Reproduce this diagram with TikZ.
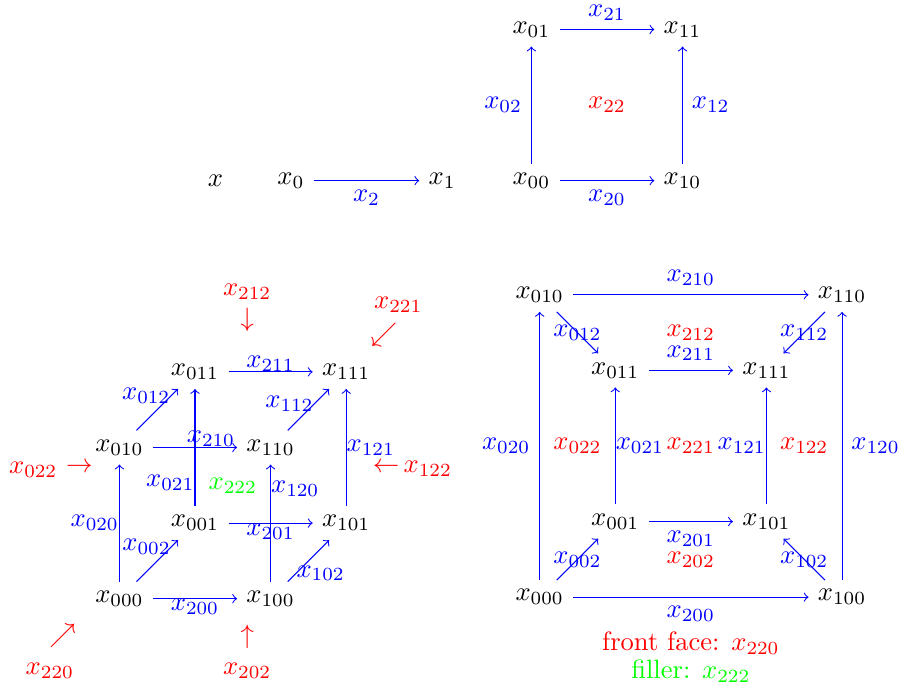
\documentclass[tikz,border=0pt]{standalone}
\begin{document}
\begin{tikzpicture}[
		cube/.style={->, blue},
		lab/.style={blue, inner sep=0pt},
		face/.style={red},
		filler/.style={green}
	]
	\useasboundingbox (-1.58,-1.19) rectangle (10.34,7.92);

	% Точка и отрезок
	\node (t) at (1.27,5.53) {$x$};
	\node (t0) at (2.27,5.53) {$x_0$};
	\node (t1) at (4.27,5.53) {$x_1$};
	\draw[cube] (t0) -- node[below] (l2) {$x_2$} (t1);

	% Квадрат
	\node (t00) at (5.45,5.53) {$x_{00}$};
	\node (t10) at (7.45,5.53) {$x_{10}$};
	\node (t01) at (5.45,7.53) {$x_{01}$};
	\node (t11) at (7.45,7.53) {$x_{11}$};
	\draw[cube] (t00) -- node[below] (l20) {$x_{20}$} (t10);
	\draw[cube] (t01) -- node[above] (l21) {$x_{21}$} (t11);
	\draw[cube] (t00) -- node[left] (l02) {$x_{02}$} (t01);
	\draw[cube] (t10) -- node[right] (l12) {$x_{12}$} (t11);
	\node[face] (t22) at (6.45,6.53) {$x_{22}$};

	% Куб
	\node (c000) at (0,0) {$x_{000}$};
	\node (c100) at (2,0) {$x_{100}$};
	\node (c010) at (0,2) {$x_{010}$};
	\node (c110) at (2,2) {$x_{110}$};
	\node (c001) at (1,1) {$x_{001}$};
	\node (c101) at (3,1) {$x_{101}$};
	\node (c011) at (1,3) {$x_{011}$};
	\node (c111) at (3,3) {$x_{111}$};

	\draw[cube] (c000) -- node[lab, below] (c200) {$x_{200}$} (c100);
	\draw[cube] (c000) -- node[lab, left] (c020) {$x_{020}$} (c010);
	\draw[cube] (c000) -- node[lab, pos=.84, left] (c002) {$x_{002}$} (c001);
	\draw[cube] (c100) -- node[lab, pos=.79, right] (c120) {$x_{120}$} (c110);
	\draw[cube] (c100) -- node[lab, pos=.2, right] (c102) {$x_{102}$} (c101);
	\draw[cube] (c010) -- node[lab, pos=.69, above] (c210) {$x_{210}$} (c110);
	\draw[cube] (c010) -- node[lab, pos=.83, left] (c012) {$x_{012}$} (c011);
	\draw[cube] (c001) -- node[lab, below] (c201) {$x_{201}$} (c101);
	\draw[cube] (c001) -- node[lab, pos=.2, left] (c021) {$x_{021}$} (c011);
	\draw[cube] (c110) -- node[lab, pos=.64, left] (c112) {$x_{112}$} (c111);
	\draw[cube] (c101) -- node[lab, right] (c121) {$x_{121}$} (c111);
	\draw[cube] (c011) -- node[lab, above] (c211) {$x_{211}$} (c111);

	% Грани куба
	\node[face] (f212) at (1.69,4.06) {$x_{212}$};
	\node[face] (g212) at (1.69,3.69) {$\downarrow$};
	\node[face] (f221) at (3.69,3.89) {$x_{221}$};
	\node[face] (g221) at (3.50,3.49) {$\swarrow$};
	\node[face] (f022) at (-1.14,1.71) {$x_{022}$};
	\node[face] (g022) at (-0.53,1.74) {$\rightarrow$};
	\node[face] (f122) at (4.08,1.72) {$x_{122}$};
	\node[face] (g122) at (3.53,1.74) {$\leftarrow$};
	\node[face] (f220) at (-0.92,-0.96) {$x_{220}$};
	\node[face] (g220) at (-0.75,-0.49) {$\nearrow$};
	\node[face] (f202) at (1.69,-0.96) {$x_{202}$};
	\node[face] (g202) at (1.69,-0.50) {$\uparrow$};
	\node[filler] (f222) at (1.5,1.49) {$x_{222}$};

	% Развёртка куба
	\node (s000) at (5.56,0.02) {$x_{000}$};
	\node (s100) at (9.56,0.02) {$x_{100}$};
	\node (s010) at (5.56,4.02) {$x_{010}$};
	\node (s110) at (9.56,4.02) {$x_{110}$};
	\node (s001) at (6.56,1.02) {$x_{001}$};
	\node (s101) at (8.56,1.02) {$x_{101}$};
	\node (s011) at (6.56,3.02) {$x_{011}$};
	\node (s111) at (8.56,3.02) {$x_{111}$};

	\draw[cube] (s000) -- node[below] (s200) {$x_{200}$} (s100);
	\draw[cube] (s000) -- node[left] (s020) {$x_{020}$} (s010);
	\draw[cube] (s000) -- node (s002) {$x_{002}$} (s001);
	\draw[cube] (s100) -- node[right] (s120) {$x_{120}$} (s110);
	\draw[cube] (s100) -- node (s102) {$x_{102}$} (s101);
	\draw[cube] (s010) -- node[above] (s210) {$x_{210}$} (s110);
	\draw[cube] (s010) -- node (s012) {$x_{012}$} (s011);
	\draw[cube] (s001) -- node[below] (s201) {$x_{201}$} (s101);
	\draw[cube] (s001) -- node[lab, right] (s021) {$x_{021}$} (s011);
	\draw[cube] (s110) -- node (s112) {$x_{112}$} (s111);
	\draw[cube] (s101) -- node[lab, left] (s121) {$x_{121}$} (s111);
	\draw[cube] (s011) -- node[above] (s211) {$x_{211}$} (s111);

	\node[face] (r212) at (7.56,3.52) {$x_{212}$};
	\node[face] (r202) at (7.56,0.52) {$x_{202}$};
	\node[face] (r022) at (6.06,2.02) {$x_{022}$};
	\node[face] (r122) at (9.06,2.02) {$x_{122}$};
	\node[face] (r221) at (7.56,2.02) {$x_{221}$};

	\node[face] (front) at (7.56,-0.59) {front face: $x_{220}$};
	\node[filler] (fill) at (7.56,-0.96) {filler: $x_{222}$};
\end{tikzpicture}
\end{document}
